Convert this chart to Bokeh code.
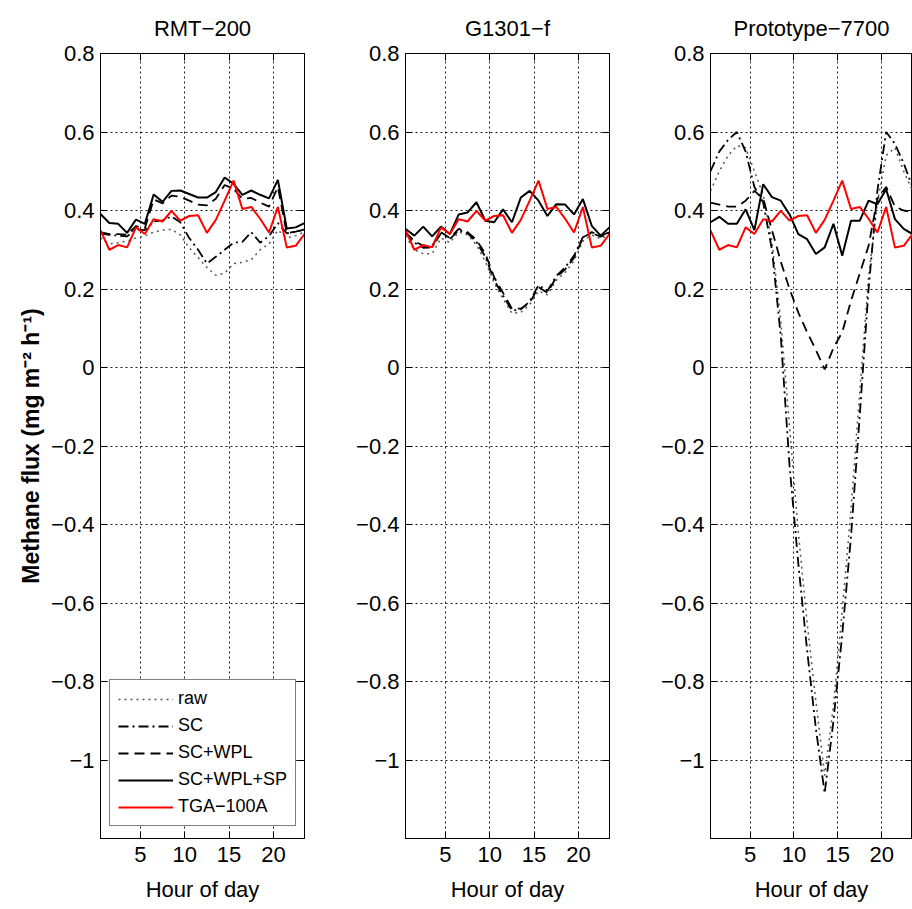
from bokeh.plotting import figure
from bokeh.models import (Range1d, FixedTicker, LinearAxis, Legend, LegendItem,
                          CustomJSTickFormatter)
from bokeh.layouts import row
from bokeh.embed import file_html
from bokeh.resources import INLINE

FONT = "Liberation Sans"

# ---------------- data ----------------
hours = [0.5, 1.5, 2.5, 3.5, 4.5, 5.5, 6.5, 7.5, 8.5, 9.5, 10.5, 11.5,
         12.5, 13.5, 14.5, 15.5, 16.5, 17.5, 18.5, 19.5, 20.5, 21.5, 22.5, 23.5]

x_ticks = [5, 10, 15, 20]
y_ticks = [-1.0, -0.8, -0.6, -0.4, -0.2, 0.0, 0.2, 0.4, 0.6, 0.8]

titles = ["RMT\u2212200", "G1301\u2212f", "Prototype\u22127700"]
series_names = ["raw", "SC", "SC+WPL", "SC+WPL+SP", "TGA\u2212100A"]

# reference analyser (same in every panel)
tga = [0.349, 0.300, 0.312, 0.306, 0.357, 0.340, 0.378, 0.372, 0.399, 0.374, 0.386, 0.388,
       0.343, 0.376, 0.425, 0.476, 0.404, 0.409, 0.379, 0.344, 0.409, 0.306, 0.310, 0.340]

# RMT-200
rmt_raw = [0.330, 0.315, 0.318, 0.322, 0.330, 0.335, 0.345, 0.350, 0.352, 0.338, 0.305, 0.280,
           0.255, 0.235, 0.240, 0.265, 0.268, 0.275, 0.300, 0.315, 0.350, 0.330, 0.336, 0.345]
rmt_sc = [0.342, 0.338, 0.336, 0.334, 0.352, 0.350, 0.372, 0.375, 0.385, 0.370, 0.330, 0.300,
          0.265, 0.282, 0.300, 0.318, 0.320, 0.345, 0.318, 0.335, 0.368, 0.342, 0.345, 0.352]
rmt_wpl = [0.345, 0.340, 0.340, 0.338, 0.360, 0.355, 0.428, 0.418, 0.438, 0.435, 0.425, 0.415,
           0.413, 0.430, 0.465, 0.455, 0.430, 0.432, 0.420, 0.410, 0.460, 0.342, 0.346, 0.352]
rmt_sp = [0.391, 0.368, 0.366, 0.343, 0.377, 0.366, 0.441, 0.422, 0.450, 0.451, 0.442, 0.433,
          0.433, 0.447, 0.484, 0.468, 0.440, 0.451, 0.440, 0.431, 0.478, 0.354, 0.357, 0.368]

# G1301-f
g_raw = [0.335, 0.300, 0.290, 0.290, 0.330, 0.318, 0.345, 0.338, 0.312, 0.270, 0.215, 0.175,
         0.138, 0.140, 0.160, 0.195, 0.185, 0.222, 0.242, 0.272, 0.322, 0.338, 0.328, 0.338]
g_sc = [0.343, 0.318, 0.305, 0.306, 0.342, 0.327, 0.350, 0.342, 0.320, 0.282, 0.222, 0.183,
        0.145, 0.148, 0.168, 0.210, 0.195, 0.233, 0.255, 0.285, 0.332, 0.343, 0.333, 0.343]
g_wpl = [0.345, 0.322, 0.310, 0.310, 0.345, 0.330, 0.353, 0.345, 0.325, 0.290, 0.230, 0.190,
         0.150, 0.150, 0.165, 0.205, 0.190, 0.230, 0.250, 0.280, 0.330, 0.345, 0.335, 0.345]
g_sp = [0.353, 0.336, 0.359, 0.334, 0.359, 0.340, 0.390, 0.395, 0.421, 0.374, 0.370, 0.403,
        0.370, 0.433, 0.450, 0.425, 0.386, 0.416, 0.415, 0.390, 0.429, 0.361, 0.336, 0.357]

# Prototype-7700
p_raw = [0.450, 0.500, 0.540, 0.565, 0.560, 0.500, 0.440, 0.320, 0.120, -0.150, -0.420, -0.650,
         -0.850, -1.040, -0.860, -0.620, -0.360, -0.060, 0.230, 0.420, 0.540, 0.560, 0.500, 0.450]
p_sc = [0.500, 0.550, 0.580, 0.600, 0.550, 0.460, 0.420, 0.300, 0.080, -0.250, -0.500, -0.720,
        -0.920, -1.085, -0.900, -0.680, -0.430, -0.120, 0.200, 0.450, 0.600, 0.570, 0.520, 0.460]
p_wpl = [0.420, 0.415, 0.410, 0.410, 0.425, 0.450, 0.430, 0.350, 0.270, 0.200, 0.140, 0.090,
         0.045, -0.005, 0.050, 0.090, 0.170, 0.240, 0.310, 0.430, 0.460, 0.410, 0.400, 0.395]
p_sp = [0.370, 0.384, 0.366, 0.366, 0.403, 0.350, 0.467, 0.434, 0.425, 0.390, 0.340, 0.327,
        0.289, 0.306, 0.366, 0.285, 0.374, 0.374, 0.425, 0.416, 0.454, 0.378, 0.353, 0.340]

ylabel = "Methane flux (mg m\u207b\u00b2 h\u207b\u00b9)"

fmt_code = """
let s;
if (Math.abs(tick) < 1e-9) { s = "0"; }
else if (Math.abs(Math.round(tick) - tick) < 1e-9) { s = tick.toFixed(0); }
else { s = tick.toFixed(1); }
return s.replace("-", "\\u2212");
"""


def style_axis(ax, show_labels=True):
    ax.major_tick_in = 7
    ax.major_tick_out = 0
    ax.minor_tick_in = 0
    ax.minor_tick_out = 0
    ax.axis_line_color = "black"
    ax.axis_line_width = 1
    ax.major_tick_line_color = "black"
    ax.major_tick_line_width = 1
    ax.major_label_text_font = FONT
    ax.major_label_text_color = "black"
    if show_labels:
        ax.major_label_text_font_size = "22px"
    else:
        ax.major_label_text_font_size = "0px"
        ax.major_label_text_color = None
        ax.major_label_standoff = 0


def make_panel(title, raw, sc, wpl, sp, ref, width, left, right, ylab=None, legend=False):
    p = figure(width=width, height=908,
               x_range=Range1d(0.5, 23.5), y_range=Range1d(-1.2, 0.8),
               output_backend="svg", toolbar_location=None,
               min_border_left=left, min_border_right=right,
               min_border_top=52, min_border_bottom=70)
    p.background_fill_color = "white"
    p.border_fill_color = "white"
    p.outline_line_color = "black"
    p.outline_line_width = 1

    p.title.text = title
    p.title.align = "center"
    p.title.text_font = FONT
    p.title.text_font_size = "22px"
    p.title.text_font_style = "normal"
    p.title.text_color = "black"
    p.title.standoff = 26

    xt = FixedTicker(ticks=x_ticks)
    yt = FixedTicker(ticks=y_ticks)
    fmt = CustomJSTickFormatter(code=fmt_code)

    p.xaxis.ticker = xt
    p.yaxis.ticker = yt
    p.yaxis.formatter = fmt
    p.xgrid.ticker = xt
    p.ygrid.ticker = yt
    for g in (p.xgrid, p.ygrid):
        g.grid_line_color = "black"
        g.grid_line_dash = "2 3"
        g.grid_line_width = 1
        g.grid_line_alpha = 0.9

    xa = p.xaxis[0]
    ya = p.yaxis[0]
    style_axis(xa)
    style_axis(ya)
    xa.major_label_standoff = 8
    ya.major_label_standoff = 6
    xa.axis_label = "Hour of day"
    xa.axis_label_text_font = FONT
    xa.axis_label_text_font_size = "22px"
    xa.axis_label_text_font_style = "normal"
    xa.axis_label_text_color = "black"
    xa.axis_label_standoff = 12
    if ylab:
        ya.axis_label = ylab
        ya.axis_label_text_font = FONT
        ya.axis_label_text_font_size = "23px"
        ya.axis_label_text_font_style = "bold"
        ya.axis_label_text_color = "black"
        ya.axis_label_standoff = 4

    top = LinearAxis(ticker=xt)
    style_axis(top, show_labels=False)
    p.add_layout(top, "above")
    rgt = LinearAxis(ticker=yt)
    style_axis(rgt, show_labels=False)
    p.add_layout(rgt, "right")

    r_raw = p.line(hours, raw, line_color="#555555", line_width=1.5, line_dash="2 4")
    r_sc = p.line(hours, sc, line_color="black", line_width=1.8, line_dash="10 4 2 4")
    r_wpl = p.line(hours, wpl, line_color="black", line_width=1.8, line_dash="10 6")
    r_sp = p.line(hours, sp, line_color="black", line_width=2)
    r_ref = p.line(hours, ref, line_color="red", line_width=2)

    if legend:
        rs = [r_raw, r_sc, r_wpl, r_sp, r_ref]
        items = [LegendItem(label=n, renderers=[r]) for n, r in zip(series_names, rs)]
        lg = Legend(items=items, location=(9, 12))
        lg.border_line_color = "black"
        lg.border_line_width = 1
        lg.background_fill_color = "white"
        lg.background_fill_alpha = 1
        lg.label_text_font = FONT
        lg.label_text_font_size = "18px"
        lg.label_text_color = "black"
        lg.glyph_width = 55
        lg.glyph_height = 20
        lg.label_height = 20
        lg.label_standoff = 5
        lg.spacing = 6
        lg.padding = 8
        lg.margin = 0
        p.add_layout(lg)
    return p


p1 = make_panel(titles[0], rmt_raw, rmt_sc, rmt_wpl, rmt_sp, tga, 345, 100, 41, ylab=ylabel, legend=True)
p2 = make_panel(titles[1], g_raw, g_sc, g_wpl, g_sp, tga, 305, 60, 41)
p3 = make_panel(titles[2], p_raw, p_sc, p_wpl, p_sp, tga, 262, 60, 0)

layout = row(p1, p2, p3)
open("out.html", "w").write(file_html(layout, INLINE))
